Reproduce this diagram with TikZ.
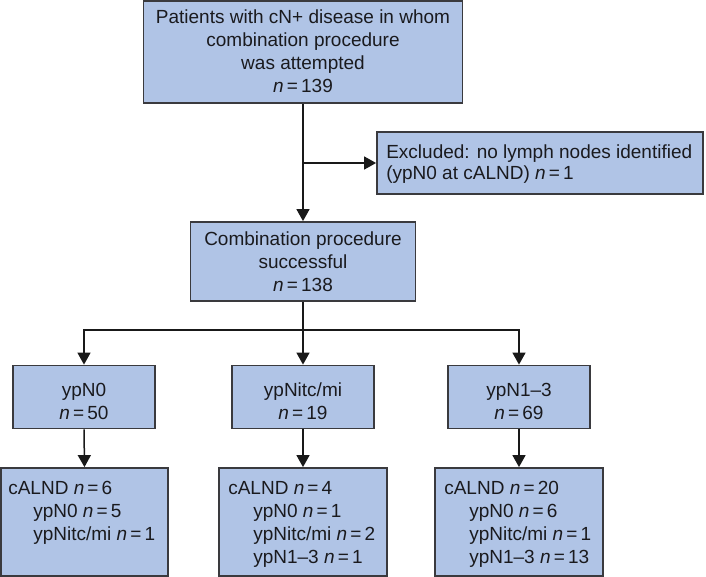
\documentclass[tikz,border=0pt]{standalone}
\usepackage{fontspec}
\setmainfont{Liberation Sans}
\usetikzlibrary{arrows.meta,calc}
\definecolor{boxfill}{RGB}{176,196,230}
\definecolor{boxline}{RGB}{58,58,62}
\definecolor{txt}{RGB}{26,26,30}
\newcommand{\nn}{\textit{n}\,=\,}
\newcommand{\ind}{\hspace*{25pt}}
\begin{document}
\begin{tikzpicture}[x=1pt,y=-1pt,
  font=\fontsize{19}{23}\selectfont,
  box/.style={draw=boxline,fill=boxfill,line width=1.8pt,inner sep=0pt},
  ctext/.style={text=txt,inner sep=0pt,align=center},
  ltext/.style={text=txt,inner sep=0pt,align=left,anchor=north west},
  conn/.style={line width=1.5pt,draw=black!90},
  arr/.style={conn,-{Triangle[length=12pt,width=13pt]}}]
\useasboundingbox (0,0) rectangle (706,577);
% boxes
\node[box,minimum width=319pt,minimum height=102pt] (top) at (303,52) {};
\node[box,minimum width=326pt,minimum height=62pt] (excl) at (540,163) {};
\node[box,minimum width=225pt,minimum height=79pt] (comb) at (303,261.5) {};
\node[box,minimum width=142pt,minimum height=63pt] (l1) at (84,397) {};
\node[box,minimum width=142pt,minimum height=63pt] (l2) at (303,397) {};
\node[box,minimum width=142pt,minimum height=63pt] (l3) at (519,397) {};
\node[box,minimum width=167pt,minimum height=108pt] (b1) at (84.5,522) {};
\node[box,minimum width=168pt,minimum height=108pt] (b2) at (303,522) {};
\node[box,minimum width=168pt,minimum height=108pt] (b3) at (519,522) {};
% texts
\node[ctext] (topT) at ($(top.center)+(0,-1)$) {Patients with cN+ disease in whom\\combination procedure\\was attempted\\\nn139};
\node[ltext] (exclT) at ($(excl.north west)+(10,13)$) {Excluded: no lymph nodes identified\\[-2pt](ypN0 at cALND) \nn1};
\node[ctext] (combT) at (comb.center) {Combination procedure\\successful\\\nn138};
\node[ctext] (l1T) at ($(l1.center)+(0,4)$) {ypN0\\\nn50};
\node[ctext] (l2T) at ($(l2.center)+(0,4)$) {ypNitc/mi\\\nn19};
\node[ctext] (l3T) at ($(l3.center)+(0,4)$) {ypN1–3\\\nn69};
\node[ltext] (b1T) at ($(b1.north west)+(8,14)$) {cALND \nn6\\\ind ypN0 \nn5\\\ind ypNitc/mi \nn1};
\node[ltext] (b2T) at ($(b2.north west)+(10,14)$) {cALND \nn4\\\ind ypN0 \nn1\\\ind ypNitc/mi \nn2\\\ind ypN1–3 \nn1};
\node[ltext] (b3T) at ($(b3.north west)+(10,14)$) {cALND \nn20\\\ind ypN0 \nn6\\\ind ypNitc/mi \nn1\\\ind ypN1–3 \nn13};
% connectors
\coordinate (bus) at (0,330);
\draw[arr] (top.south) -- (comb.north);
\draw[arr] (top.south |- excl.west) -- (excl.west);
\draw[arr] (comb.south) -- (l2.north);
\draw[arr] (comb.south |- bus) -| (l1.north);
\draw[arr] (comb.south |- bus) -| (l3.north);
\draw[arr] (l1.south) -- (b1.north);
\draw[arr] (l2.south) -- (b2.north);
\draw[arr] (l3.south) -- (b3.north);
\end{tikzpicture}
\end{document}
